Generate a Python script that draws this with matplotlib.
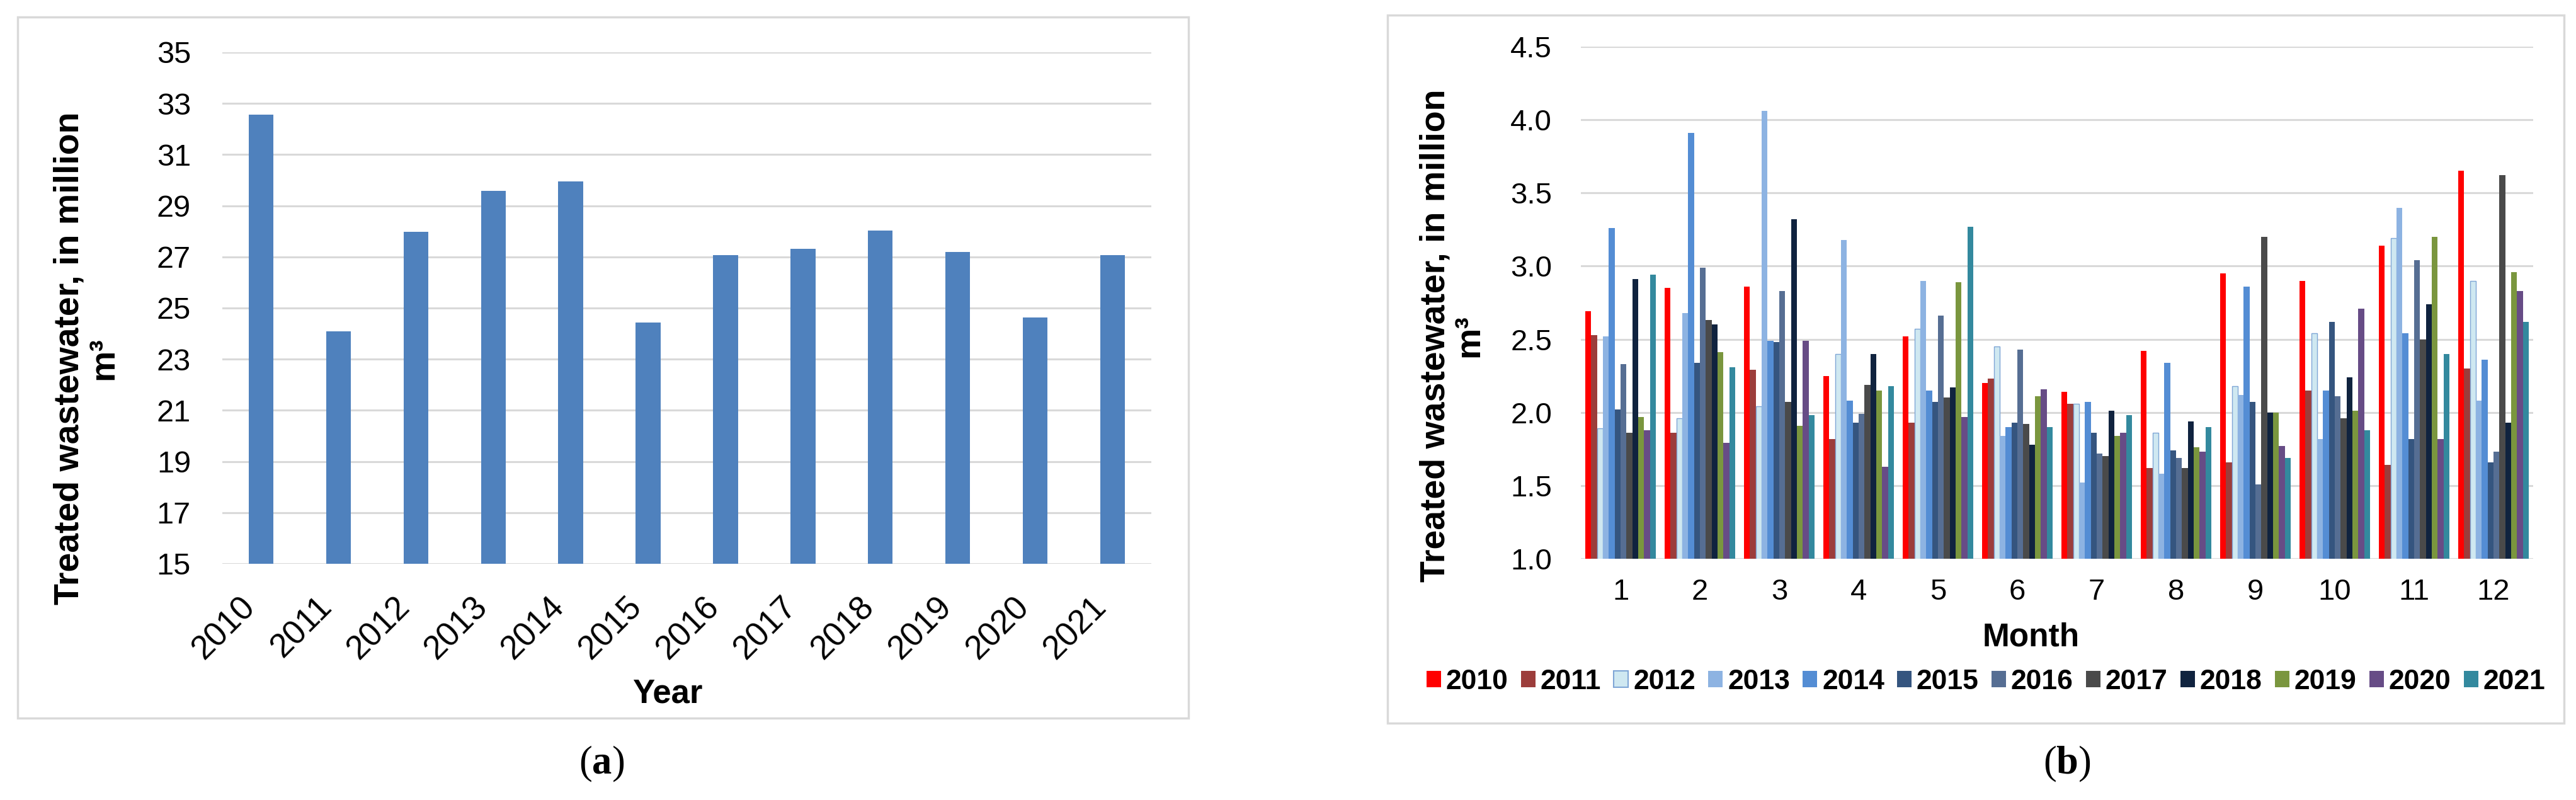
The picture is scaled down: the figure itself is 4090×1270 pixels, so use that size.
import numpy as np
import matplotlib
matplotlib.use('Agg')
import matplotlib.pyplot as plt
from matplotlib.patches import Rectangle, Patch
from matplotlib.transforms import ScaledTranslation

plt.rcParams['font.family'] = ['Liberation Sans', 'DejaVu Sans']
plt.rcParams['mathtext.fontset'] = 'custom'
plt.rcParams['mathtext.rm'] = 'Liberation Serif'
plt.rcParams['mathtext.bf'] = 'Liberation Serif:bold'

# annual totals (panel a)
years = ['2010', '2011', '2012', '2013', '2014', '2015',
         '2016', '2017', '2018', '2019', '2020', '2021']
annual = [32.55, 24.08, 27.99, 29.57, 29.95, 24.44, 27.08, 27.32, 28.03, 27.20, 24.62, 27.08]

# monthly values (panel b), one list per year
months = [1, 2, 3, 4, 5, 6, 7, 8, 9, 10, 11, 12]
y2010 = [2.69, 2.85, 2.86, 2.25, 2.52, 2.20, 2.14, 2.42, 2.95, 2.90, 3.14, 3.65]
y2011 = [2.53, 1.86, 2.29, 1.82, 1.93, 2.23, 2.06, 1.62, 1.66, 2.15, 1.64, 2.30]
y2012 = [1.89, 1.96, 2.04, 2.40, 2.57, 2.45, 2.06, 1.86, 2.18, 2.54, 3.19, 2.90]
y2013 = [2.52, 2.68, 4.06, 3.18, 2.90, 1.84, 1.52, 1.58, 2.12, 1.82, 3.40, 2.08]
y2014 = [3.26, 3.91, 2.49, 2.08, 2.15, 1.90, 2.07, 2.34, 2.86, 2.15, 2.54, 2.36]
y2015 = [2.02, 2.34, 2.48, 1.93, 2.07, 1.93, 1.86, 1.74, 2.07, 2.62, 1.82, 1.66]
y2016 = [2.33, 2.99, 2.83, 1.99, 2.66, 2.43, 1.72, 1.69, 1.51, 2.11, 3.04, 1.73]
y2017 = [1.86, 2.63, 2.07, 2.19, 2.10, 1.92, 1.70, 1.62, 3.20, 1.96, 2.50, 3.62]
y2018 = [2.91, 2.60, 3.32, 2.40, 2.17, 1.78, 2.01, 1.94, 2.00, 2.24, 2.74, 1.93]
y2019 = [1.97, 2.41, 1.91, 2.15, 2.89, 2.11, 1.84, 1.76, 2.00, 2.01, 3.20, 2.96]
y2020 = [1.88, 1.79, 2.49, 1.63, 1.97, 2.16, 1.86, 1.73, 1.77, 2.71, 1.82, 2.83]
y2021 = [2.94, 2.31, 1.98, 2.18, 3.27, 1.90, 1.98, 1.90, 1.69, 1.88, 2.40, 2.62]
monthly = [y2010, y2011, y2012, y2013, y2014, y2015,
           y2016, y2017, y2018, y2019, y2020, y2021]

colors = ['#FF0000', '#9C3D3B', '#CFE8F1', '#8DB3E2', '#548DD4', '#35557F',
          '#566E93', '#4A4A4A', '#10233F', '#7A963E', '#674C86', '#33899E']

W, H = 4091, 1270
fig = plt.figure(figsize=(W / 100, H / 100), dpi=100)


def fx(px):
    return px / W


def fy(py):
    return 1 - py / H


grid_c = '#D9D9D9'

# panel frames
for x0, y0, x1, y1 in [(28, 27, 1887, 1140), (2203, 24, 4071, 1148)]:
    fig.add_artist(Rectangle((fx(x0), fy(y1)), fx(x1 - x0), (y1 - y0) / H,
                             transform=fig.transFigure, fill=False,
                             edgecolor=grid_c, lw=2.5))

# ---------- panel a ----------
ax1 = fig.add_axes([fx(353), fy(895), fx(1828 - 353), (895 - 83) / H])
x = np.arange(len(years))
ax1.bar(x, annual, width=0.32, color='#4F81BD', zorder=3)
ax1.set_ylim(15, 35)
ax1.set_xlim(-0.5, len(years) - 0.5)
ax1.set_yticks(np.arange(15, 36, 2))
ax1.set_xticks(x)
ax1.set_xticklabels(years, rotation=45, ha='right', va='top')
off = ScaledTranslation(12 / 100, 0, fig.dpi_scale_trans)
for lab in ax1.get_xticklabels():
    lab.set_transform(lab.get_transform() + off)
ax1.tick_params(axis='y', length=0, pad=36, labelsize=35)
ax1.tick_params(axis='x', length=0, pad=31, labelsize=38)
ax1.grid(axis='y', color=grid_c, lw=2.2, zorder=0)
for s in ax1.spines.values():
    s.set_visible(False)

fig.text(fx(138), fy(569), 'Treated wastewater, in million\nm\u00b3', rotation=90,
         ha='center', va='center', multialignment='center',
         fontsize=40, fontweight='bold', linespacing=1.05)
fig.text(fx(1060), fy(1101), 'Year', ha='center', va='center',
         fontsize=38, fontweight='bold')

# ---------- panel b ----------
ax2 = fig.add_axes([fx(2510), fy(887), fx(4022 - 2510), (887 - 74) / H])
n = len(monthly)
bw = 0.89 / n
m = np.array(months)
for j, vals in enumerate(monthly):
    ec = '#7FA6D6' if j == 2 else colors[j]
    ax2.bar(m + (j - (n - 1) / 2) * bw, vals, width=bw, color=colors[j],
            edgecolor=ec, linewidth=1.0 if j == 2 else 0, zorder=3,
            label=years[j])
ax2.set_ylim(1.0, 4.5)
ax2.set_xlim(0.5, 12.5)
ax2.set_yticks(np.arange(1.0, 4.51, 0.5))
ax2.set_yticklabels([f'{v:.1f}' for v in np.arange(1.0, 4.51, 0.5)])
ax2.set_xticks(m)
ax2.tick_params(axis='y', length=0, pad=33, labelsize=34)
ax2.tick_params(axis='x', length=0, pad=22, labelsize=34)
ax2.grid(axis='y', color=grid_c, lw=2.2, zorder=0)
for s in ax2.spines.values():
    s.set_visible(False)

fig.text(fx(2306), fy(533), 'Treated wastewater, in million\nm\u00b3', rotation=90,
         ha='center', va='center', multialignment='center',
         fontsize=40, fontweight='bold', linespacing=1.05)
fig.text(fx(3225), fy(1012), 'Month', ha='center', va='center',
         fontsize=37, fontweight='bold')

handles = [Patch(facecolor=colors[j],
                 edgecolor='#7FA6D6' if j == 2 else colors[j],
                 linewidth=1.5 if j == 2 else 0)
           for j in range(n)]
fig.legend(handles, years, loc='center', bbox_to_anchor=(fx(3153), fy(1082)),
           ncol=12, frameon=False, prop={'weight': 'bold', 'size': 32},
           handlelength=0.52, handleheight=0.52, handletextpad=0.18,
           columnspacing=0.45, borderpad=0, borderaxespad=0)

# captions
fig.text(fx(955), fy(1213), r'$\mathrm{(}\mathbf{a}\mathrm{)}$', ha='center',
         va='center', fontsize=45)
fig.text(fx(3282), fy(1213), r'$\mathrm{(}\mathbf{b}\mathrm{)}$', ha='center',
         va='center', fontsize=45)

fig.savefig('out.png', dpi=100)
